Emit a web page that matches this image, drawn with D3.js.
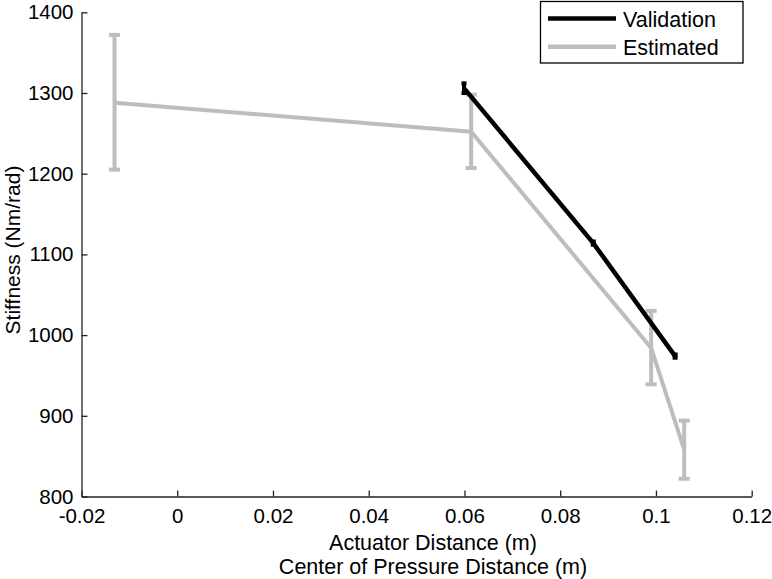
<!DOCTYPE html>
<html><head><meta charset="utf-8">
<script src="https://cdn.jsdelivr.net/npm/d3@7"></script>
<style>body{margin:0;background:#fff}svg{display:block}text{font-family:"Liberation Sans",Arial,sans-serif;fill:#000}</style>
</head><body><svg id="c" width="772" height="579"></svg>
<script>
const xTicks = [-0.02, 0, 0.02, 0.04, 0.06, 0.08, 0.1, 0.12];
const xTickLabels = ["-0.02", "0", "0.02", "0.04", "0.06", "0.08", "0.1", "0.12"];
const yTicks = [800, 900, 1000, 1100, 1200, 1300, 1400];
const seriesNames = ["Validation", "Estimated"];
const validationX = [0.0599, 0.0869, 0.1040];
const validationY = [1306, 1114, 974];
const validationErr = [6, 2, 2];
const estimatedX = [-0.0131, 0.0614, 0.0990, 0.1059];
const estimatedY = [1288, 1252, 984, 858];
const estimatedLo = [1205, 1207, 939, 822];
const estimatedHi = [1372, 1298, 1030, 894];
const xLabel1 = "Actuator Distance (m)";
const xLabel2 = "Center of Pressure Distance (m)";
const yLabel = "Stiffness (Nm/rad)";

const svg = d3.select("#c");
const L = 81.5, R = 751.7, T = 12.3, B = 496.5;
const x = d3.scaleLinear().domain([-0.02, 0.12]).range([L, R]);
const y = d3.scaleLinear().domain([800, 1400]).range([B, T]);
const gray = "#bdbdbd";
const ff = '"Liberation Sans",Arial,sans-serif';

// axes
const xa = svg.append("g").attr("transform", `translate(0,${B})`)
  .call(d3.axisBottom(x).tickValues(xTicks).tickSizeInner(-6).tickSizeOuter(0)
    .tickFormat((d, i) => xTickLabels[i]));
const ya = svg.append("g").attr("transform", `translate(${L},0)`)
  .call(d3.axisLeft(y).tickValues(yTicks).tickSizeInner(-6).tickSizeOuter(0).tickFormat(d3.format("d")));
[xa, ya].forEach(a => {
  a.select(".domain").attr("stroke", "#222").attr("stroke-width", 1.3);
  a.selectAll(".tick line").attr("stroke", "#222").attr("stroke-width", 1.3);
  a.selectAll("text").style("font-size", "20.5px").style("font-family", ff).attr("fill", "#000");
});
xa.selectAll("text").attr("dy", null).attr("y", 26.3);
ya.selectAll("text").attr("x", -8);

// lines
const line = d3.line().x(d => x(d[0])).y(d => y(d[1]));
const g = svg.append("g");
// estimated error bars
estimatedX.forEach((xv, i) => {
  const px = x(xv);
  g.append("line").attr("x1", px).attr("x2", px).attr("y1", y(estimatedLo[i])).attr("y2", y(estimatedHi[i]))
    .attr("stroke", gray).attr("stroke-width", 4);
  [estimatedLo[i], estimatedHi[i]].forEach(v => {
    g.append("line").attr("x1", px - 5.5).attr("x2", px + 5.5).attr("y1", y(v)).attr("y2", y(v))
      .attr("stroke", gray).attr("stroke-width", 4);
  });
});
g.append("path").datum(estimatedX.map((v, i) => [v, estimatedY[i]])).attr("d", line)
  .attr("fill", "none").attr("stroke", gray).attr("stroke-width", 4).attr("stroke-linejoin", "miter");

// validation
validationX.forEach((xv, i) => {
  const px = x(xv);
  const lo = validationY[i] - validationErr[i], hi = validationY[i] + validationErr[i];
  g.append("line").attr("x1", px).attr("x2", px).attr("y1", y(lo)).attr("y2", y(hi))
    .attr("stroke", "#000").attr("stroke-width", 4);
  [lo, hi].forEach(v => {
    g.append("line").attr("x1", px - 2.5).attr("x2", px + 2.5).attr("y1", y(v)).attr("y2", y(v))
      .attr("stroke", "#000").attr("stroke-width", 4);
  });
});
g.append("path").datum(validationX.map((v, i) => [v, validationY[i]])).attr("d", line)
  .attr("fill", "none").attr("stroke", "#000").attr("stroke-width", 4.5);

// labels
svg.append("text").attr("x", 433).attr("y", 550).attr("text-anchor", "middle").style("font-size", "21.5px").text(xLabel1);
svg.append("text").attr("x", 433).attr("y", 574).attr("text-anchor", "middle").style("font-size", "21.5px").text(xLabel2);
svg.append("text").attr("transform", "translate(20,250) rotate(-90)").attr("text-anchor", "middle").style("font-size", "21px").text(yLabel);

// legend
const lg = svg.append("g");
lg.append("rect").attr("x", 540.5).attr("y", 1.5).attr("width", 202.5).attr("height", 61.5)
  .attr("fill", "#fff").attr("stroke", "#000").attr("stroke-width", 1.3);
const colors = ["#000", gray];
seriesNames.forEach((s, i) => {
  const yy = 18.5 + i * 28.2;
  lg.append("line").attr("x1", 548).attr("x2", 616).attr("y1", yy).attr("y2", yy)
    .attr("stroke", colors[i]).attr("stroke-width", 4.5);
  lg.append("text").attr("x", 623).attr("y", yy + 8).style("font-size", "21.5px").text(s);
});
</script></body></html>
